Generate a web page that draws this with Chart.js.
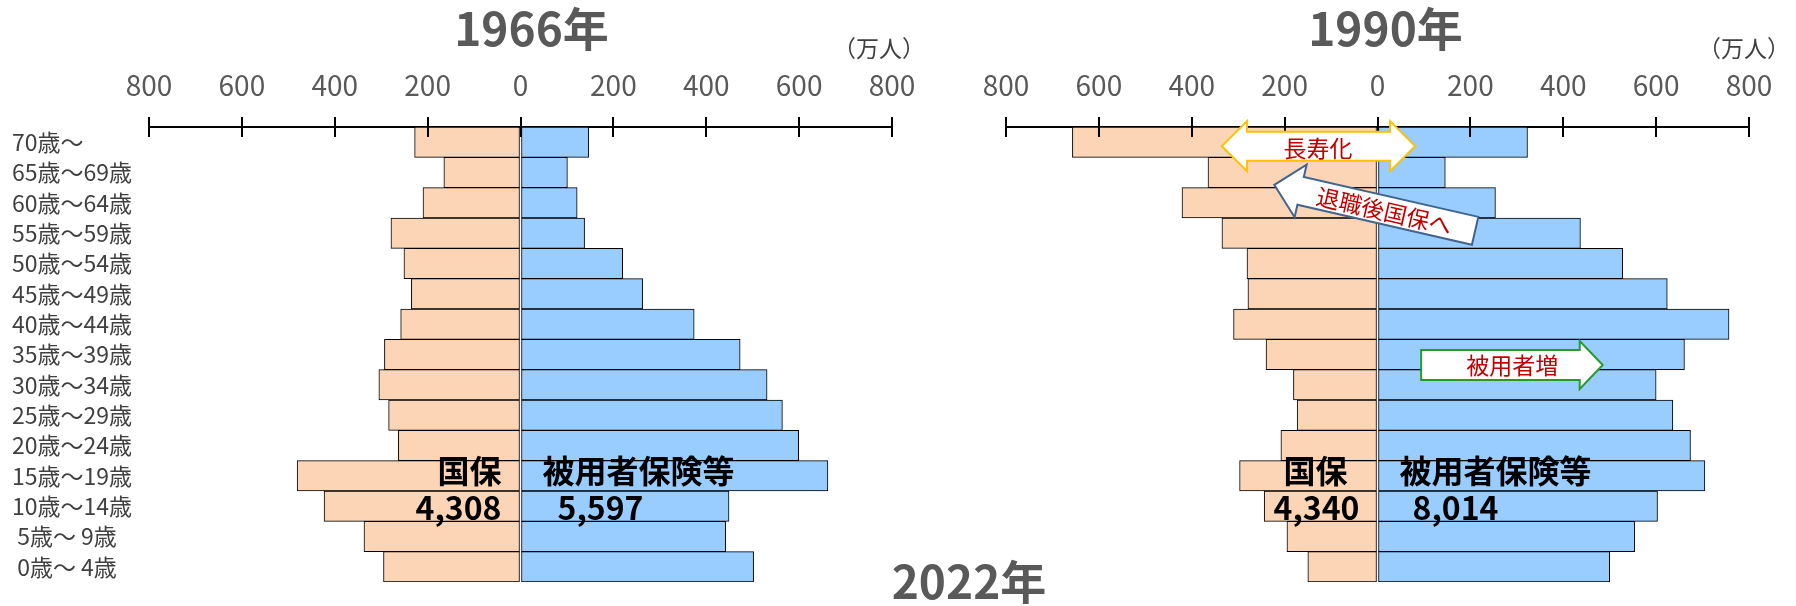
<!DOCTYPE html>
<html lang="ja">
<head>
<meta charset="utf-8">
<script src="https://cdn.jsdelivr.net/npm/chart.js@4.4.1/dist/chart.umd.min.js"></script>
<style>
html, body { margin: 0; padding: 0; background: #fff; }
#wrap { position: relative; width: 1796px; height: 606px; }
#wrap canvas { position: absolute; left: 0; top: 0; }
</style>
</head>
<body>
<div id="wrap">
  <canvas id="chart1966" width="1796" height="606"></canvas>
  <canvas id="chart1990" width="1796" height="606"></canvas>
</div>
<script>
// Data (万人), top row = oldest age group
const ageGroups = ['70歳～', '65歳～69歳', '60歳～64歳', '55歳～59歳', '50歳～54歳',
    '45歳～49歳', '40歳～44歳', '35歳～39歳', '30歳～34歳', '25歳～29歳',
    '20歳～24歳', '15歳～19歳', '10歳～14歳', ' 5歳～ 9歳', ' 0歳～ 4歳'];
const kokuho1966 = [228, 165, 210, 279, 251, 235, 258, 293, 305, 284, 263, 481, 423, 337, 295];
const hiho1966 = [147, 101, 122, 138, 220, 263, 374, 473, 531, 564, 599, 662, 449, 442, 502];
const kokuho1990 = [657, 365, 421, 335, 281, 279, 310, 240, 181, 173, 208, 297, 244, 195, 150];
const hiho1990 = [323, 146, 254, 437, 528, 624, 757, 661, 600, 636, 674, 705, 603, 554, 500];
const totals1966 = ['4,308', '5,597'];
const totals1990 = ['4,340', '8,014'];
const axisMax = 800;
const axisStep = 200;

const FONT = '"Noto Sans CJK JP", "Noto Sans", sans-serif';
Chart.defaults.font.family = FONT;
Chart.defaults.animation = false;

const KOKUHO_COLOR = '#FBD5B5';
const HIHO_COLOR = '#99CCFF';

// arrow helpers
function drawDoubleArrow(ctx, x1, x2, yc, headLen, headHalf, bodyHalf, stroke) {
    ctx.beginPath();
    ctx.moveTo(x1, yc);
    ctx.lineTo(x1 + headLen, yc - headHalf);
    ctx.lineTo(x1 + headLen, yc - bodyHalf);
    ctx.lineTo(x2 - headLen, yc - bodyHalf);
    ctx.lineTo(x2 - headLen, yc - headHalf);
    ctx.lineTo(x2, yc);
    ctx.lineTo(x2 - headLen, yc + headHalf);
    ctx.lineTo(x2 - headLen, yc + bodyHalf);
    ctx.lineTo(x1 + headLen, yc + bodyHalf);
    ctx.lineTo(x1 + headLen, yc + headHalf);
    ctx.closePath();
    ctx.fillStyle = '#fff';
    ctx.fill();
    ctx.lineWidth = 2;
    ctx.strokeStyle = stroke;
    ctx.stroke();
}

// arrow pointing right, from tail x1 to tip x2 (local coords)
function drawArrow(ctx, x1, x2, yc, headLen, headHalf, bodyHalf, stroke) {
    ctx.beginPath();
    ctx.moveTo(x1, yc - bodyHalf);
    ctx.lineTo(x2 - headLen, yc - bodyHalf);
    ctx.lineTo(x2 - headLen, yc - headHalf);
    ctx.lineTo(x2, yc);
    ctx.lineTo(x2 - headLen, yc + headHalf);
    ctx.lineTo(x2 - headLen, yc + bodyHalf);
    ctx.lineTo(x1, yc + bodyHalf);
    ctx.closePath();
    ctx.fillStyle = '#fff';
    ctx.fill();
    ctx.lineWidth = 2;
    ctx.strokeStyle = stroke;
    ctx.stroke();
}

function label(ctx, text, x, y, font, color, align) {
    ctx.font = font;
    ctx.fillStyle = color;
    ctx.textAlign = align || 'center';
    ctx.textBaseline = 'middle';
    ctx.fillText(text, x, y);
}

function overlayPlugin(cfg) {
    return {
        id: 'overlay',
        afterDatasetsDraw(chart) {
            const { ctx, chartArea, scales: { x, y } } = chart;
            const zero = x.getPixelForValue(0);
            ctx.save();

            // tick marks crossing below the top axis line
            ctx.strokeStyle = '#000';
            ctx.lineWidth = 2;
            x.ticks.forEach(t => {
                const px = Math.round(x.getPixelForValue(t.value));
                ctx.beginPath();
                ctx.moveTo(px, chartArea.top - 1);
                ctx.lineTo(px, chartArea.top + 10);
                ctx.stroke();
            });

            // titles
            label(ctx, cfg.title, zero + cfg.titleDx, 29, 'bold 46px ' + FONT, '#595959');
            label(ctx, '（万人）', chartArea.right + cfg.unitDx, 48, '23px ' + FONT, '#404040');

            // totals
            const bold = 'bold 32px ' + FONT;
            const rowA = y.getPixelForValue(11) - 5;
            const rowB = y.getPixelForValue(12) + 2;
            label(ctx, '国保', zero + cfg.kDx, rowA, bold, '#000', 'right');
            label(ctx, cfg.totals[0], zero + cfg.kNumDx, rowB, bold, '#000', 'right');
            label(ctx, '被用者保険等', zero + cfg.hDx, rowA, bold, '#000', 'left');
            label(ctx, cfg.totals[1], zero + cfg.hNumDx, rowB, bold, '#000', 'left');

            if (cfg.footer) {
                label(ctx, cfg.footer, 969, 582, 'bold 46px ' + FONT, '#595959');
            }

            if (cfg.arrows) {
                const red = '#C00000';
                const afont = '23px ' + FONT;
                // 長寿化
                const yl = y.getPixelForValue(0) + 4;
                drawDoubleArrow(ctx, x.getPixelForValue(-335), x.getPixelForValue(81), yl, 25, 25, 14.5, '#FFC000');
                label(ctx, '長寿化', x.getPixelForValue(-128), yl + 2, afont, red);

                // 退職後国保へ (rotated, pointing up-left)
                const cx = x.getPixelForValue(-6);
                const cy = y.getPixelForValue(2) + 5;
                ctx.save();
                ctx.translate(cx, cy);
                ctx.rotate(12.9 * Math.PI / 180);
                ctx.scale(-1, 1);
                drawArrow(ctx, -103, 103, 0, 27, 27, 14.3, '#41658F');
                ctx.scale(-1, 1);
                label(ctx, '退職後国保へ', 10, 1, afont, red);
                ctx.restore();

                // 被用者増
                const yh = y.getPixelForValue(7) + 10.5;
                drawArrow(ctx, x.getPixelForValue(94), x.getPixelForValue(485), yh, 23, 24, 15, '#2A9A2A');
                label(ctx, '被用者増', x.getPixelForValue(290), yh, afont, red);
            }
            ctx.restore();
        }
    };
}

function makeChart(id, kokuho, hiho, cfg) {
    const ctx = document.getElementById(id).getContext('2d');
    return new Chart(ctx, {
        type: 'bar',
        data: {
            labels: ageGroups,
            datasets: [{
                label: '国保',
                data: kokuho.map(v => -v),
                backgroundColor: KOKUHO_COLOR,
                borderColor: '#000',
                borderWidth: 1,
                borderSkipped: false
            }, {
                label: '被用者保険等',
                data: hiho,
                backgroundColor: HIHO_COLOR,
                borderColor: '#000',
                borderWidth: 1,
                borderSkipped: false
            }]
        },
        options: {
            indexAxis: 'y',
            responsive: false,
            devicePixelRatio: 1,
            layout: { padding: cfg.padding },
            datasets: { bar: { barPercentage: 1, categoryPercentage: 1 } },
            plugins: {
                legend: { display: false },
                title: { display: false },
                tooltip: { enabled: false }
            },
            scales: {
                x: {
                    position: 'top',
                    stacked: true,
                    min: -axisMax,
                    max: axisMax,
                    afterFit: s => { s.height = 127; },
                    ticks: {
                        stepSize: axisStep,
                        padding: 15,
                        color: '#595959',
                        font: { size: 28 },
                        maxRotation: 0,
                        callback: v => Math.abs(v)
                    },
                    grid: {
                        drawOnChartArea: false,
                        drawTicks: true,
                        tickLength: 10,
                        color: '#000',
                        lineWidth: 2
                    },
                    border: { display: true, color: '#000', width: 2 }
                },
                y: {
                    stacked: true,
                    display: cfg.showLabels,
                    afterFit: s => { s.width = cfg.yWidth; },
                    ticks: {
                        autoSkip: false,
                        crossAlign: 'far',
                        color: '#404040',
                        font: { size: 23 }
                    },
                    grid: { display: false },
                    border: { display: false }
                }
            }
        },
        plugins: [overlayPlugin(cfg)]
    });
}

makeChart('chart1966', kokuho1966, hiho1966, {
    padding: { left: 12, right: 904, top: 0, bottom: 24 },
    showLabels: true, yWidth: 137,
    title: '1966年', titleDx: 11, unitDx: -13,
    totals: totals1966, kDx: -19, kNumDx: -19, hDx: 22, hNumDx: 37,
    footer: '2022年'
});

makeChart('chart1990', kokuho1990, hiho1990, {
    padding: { left: 1006, right: 47, top: 0, bottom: 24 },
    showLabels: false, yWidth: 0,
    title: '1990年', titleDx: 8, unitDx: -5,
    totals: totals1990, kDx: -30, kNumDx: -18, hDx: 22, hNumDx: 35,
    arrows: true
});
</script>
</body>
</html>
